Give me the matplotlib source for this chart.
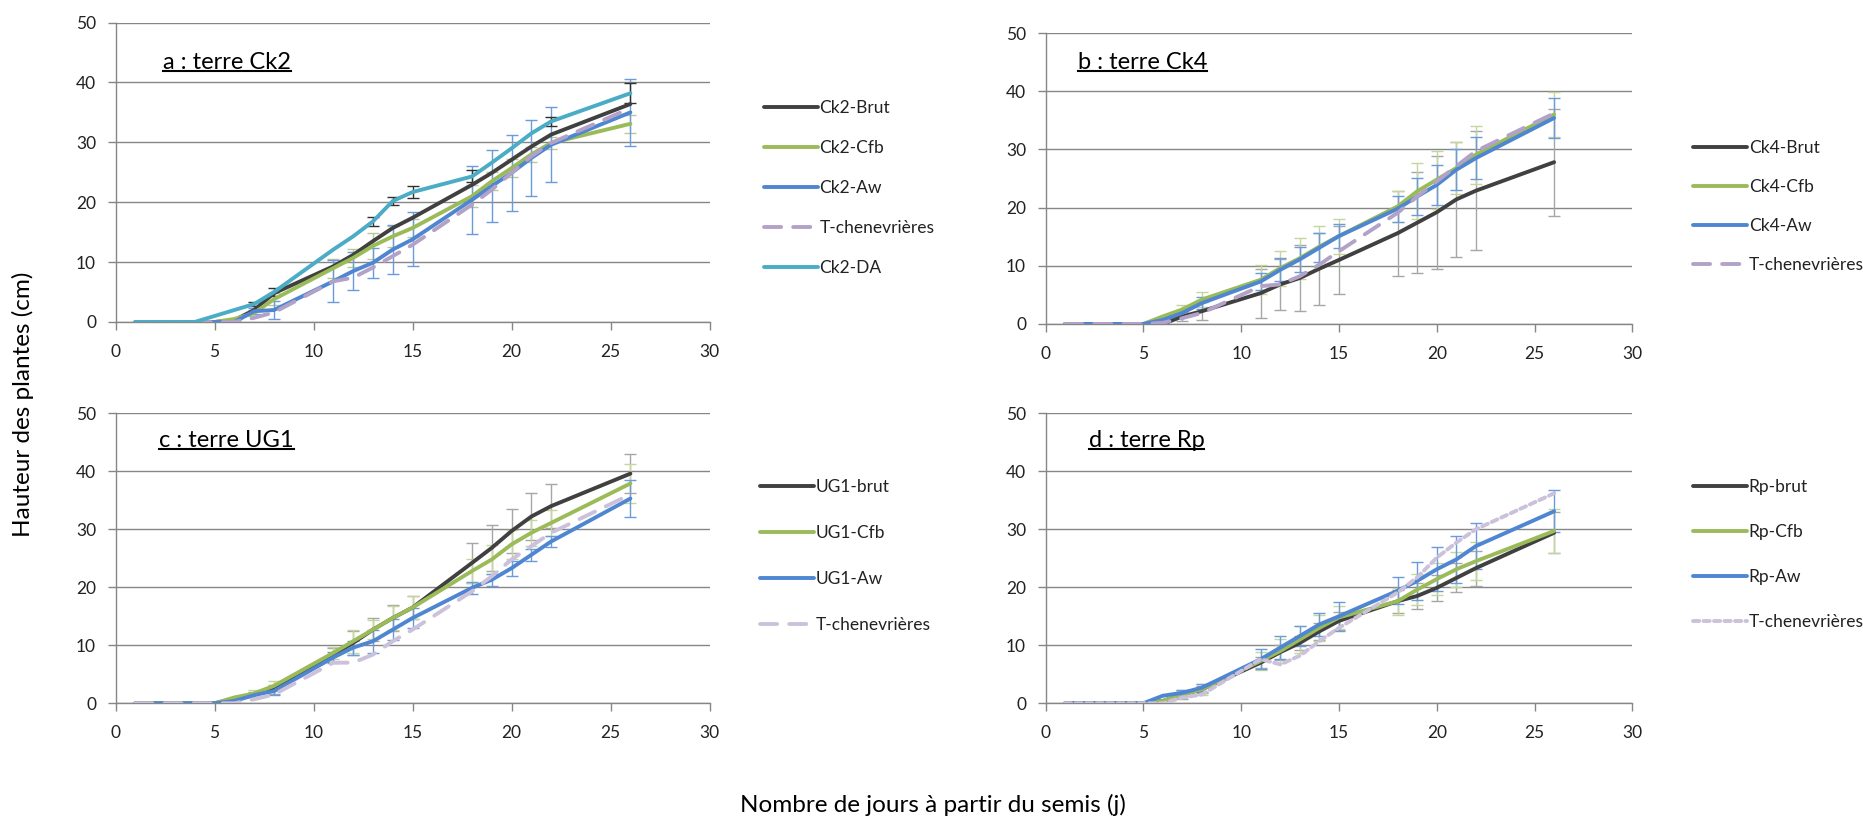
import numpy as np
import matplotlib
matplotlib.use("Agg")
import matplotlib.pyplot as plt
from matplotlib.lines import Line2D

plt.rcParams['font.family'] = ['Lato', 'DejaVu Sans']

days = [1, 4, 5, 6, 7, 8, 11, 12, 13, 14, 15, 18, 19, 20, 21, 22, 26]

# ---- panel a : terre Ck2
a_labels = ["Ck2-Brut", "Ck2-Cfb", "Ck2-Aw", "T-chenevrières", "Ck2-DA"]
a_brut = [0, 0, 0, 0.3, 2.0, 4.8, 9.3, 11.2, 13.5, 15.7, 17.4, 22.9, 24.9, 27.1, 29.3, 31.3, 36.4]
a_cfb = [0, 0, 0, 0.5, 1.5, 3.8, 9.0, 10.7, 12.7, 14.3, 15.7, 21.0, 23.5, 25.7, 28.0, 29.9, 33.1]
a_aw = [0, 0, 0, 0, 1.8, 2.0, 6.8, 8.5, 9.9, 12.1, 13.8, 20.4, 22.7, 24.9, 27.4, 29.6, 35.0]
a_tch = [0, 0, 0, 0, 0.7, 1.6, 6.8, 7.4, 9.1, 11.0, 12.9, 19.6, 22.1, 24.9, 27.7, 29.9, 35.7]
a_da = [0, 0, 1.0, 2.0, 3.0, 5.0, 12.1, 14.3, 16.8, 20.2, 21.7, 24.3, 26.6, 29.0, 31.5, 33.5, 38.2]
a_err_da = [0, 0, 0, 0, 0.4, 0.6, 0, 0, 0.8, 0.7, 1.0, 1.0, 0, 0, 0, 0.7, 1.7]
a_err_cfb = [0, 0, 0, 0, 0.5, 1.0, 1.6, 1.5, 2.2, 1.8, 1.5, 1.8, 1.5, 1.5, 1.3, 1.0, 1.5]
a_err_aw = [0, 0, 0, 0, 0.5, 1.5, 3.5, 3.2, 2.5, 4.1, 4.5, 5.7, 6.0, 6.3, 6.4, 6.3, 5.6]

# ---- panel b : terre Ck4
b_labels = ["Ck4-Brut", "Ck4-Cfb", "Ck4-Aw", "T-chenevrières"]
b_brut = [0, 0, 0, 0, 1.3, 2.2, 5.3, 6.8, 7.9, 9.5, 11.0, 15.6, 17.4, 19.2, 21.4, 22.9, 27.8]
b_cfb = [0, 0, 0, 1.3, 2.5, 4.2, 7.6, 9.6, 11.3, 13.3, 15.1, 20.2, 22.8, 24.8, 26.8, 29.1, 36.0]
b_aw = [0, 0, 0, 0.7, 1.9, 3.6, 7.3, 9.3, 11.1, 13.1, 15.1, 19.8, 21.9, 23.9, 26.5, 28.5, 35.4]
b_tch = [0, 0, 0, 0.2, 1.0, 1.9, 6.5, 6.8, 8.2, 10.2, 12.5, 19.1, 21.9, 24.5, 27.1, 29.7, 36.2]
b_err_brut = [0, 0, 0, 0, 0.8, 1.5, 4.2, 4.4, 5.6, 6.2, 5.9, 7.3, 8.7, 9.7, 9.9, 10.2, 9.2]
b_err_cfb = [0, 0, 0, 0, 0.8, 1.3, 2.5, 3.0, 3.5, 3.5, 3.0, 2.7, 4.8, 5.0, 4.5, 5.0, 3.8]
b_err_aw = [0, 0, 0, 0, 0.5, 1.0, 1.5, 2.0, 2.2, 2.5, 2.0, 2.2, 3.2, 3.5, 3.5, 3.6, 3.4]

# ---- panel c : terre UG1
c_labels = ["UG1-brut", "UG1-Cfb", "UG1-Aw", "T-chenevrières"]
c_brut = [0, 0, 0, 0.7, 1.5, 2.4, 8.4, 10.4, 12.7, 14.7, 16.5, 24.2, 26.8, 29.7, 32.2, 34.0, 39.6]
c_cfb = [0, 0, 0, 1.0, 1.7, 3.0, 8.7, 10.7, 12.7, 14.7, 16.5, 22.8, 24.8, 27.4, 29.4, 31.1, 37.9]
c_aw = [0, 0, 0, 0.4, 1.4, 2.1, 7.9, 9.6, 10.7, 12.7, 14.7, 19.9, 21.3, 23.3, 25.6, 27.9, 35.3]
c_tch = [0, 0, 0, 0, 0.7, 1.5, 7.0, 7.0, 8.4, 10.7, 12.7, 19.3, 21.9, 24.8, 27.1, 29.4, 36.0]
c_err_brut = [0, 0, 0, 0, 0.5, 0.8, 1.2, 2.0, 2.0, 2.3, 2.0, 3.5, 4.0, 3.8, 4.0, 3.8, 3.4]
c_err_cfb = [0, 0, 0, 0, 0.6, 0.8, 1.0, 2.0, 1.7, 2.0, 2.0, 2.0, 2.5, 2.5, 2.2, 2.2, 3.4]
c_err_aw = [0, 0, 0, 0, 0.4, 0.6, 1.0, 1.2, 2.0, 1.8, 1.7, 1.0, 1.0, 1.3, 1.0, 0.9, 3.2]

# ---- panel d : terre Rp
d_labels = ["Rp-brut", "Rp-Cfb", "Rp-Aw", "T-chenevrières"]
d_brut = [0, 0, 0, 0.4, 1.5, 2.4, 7.0, 8.8, 10.4, 12.4, 14.2, 17.6, 18.5, 19.9, 21.6, 23.3, 29.4]
d_cfb = [0, 0, 0, 0.4, 1.5, 2.4, 7.3, 9.0, 11.0, 13.0, 14.8, 17.6, 19.6, 21.4, 23.1, 24.5, 29.7]
d_aw = [0, 0, 0, 1.3, 1.8, 2.7, 7.6, 9.6, 11.6, 13.6, 15.0, 19.4, 21.1, 23.1, 24.8, 27.1, 33.1]
d_tch = [0, 0, 0, 0, 1.0, 1.5, 7.6, 6.7, 8.2, 10.7, 13.0, 19.1, 21.7, 25.1, 27.7, 30.0, 36.2]
d_err_brut = [0, 0, 0, 0, 0.8, 0.6, 1.0, 1.3, 1.2, 1.5, 1.6, 2.0, 2.2, 2.2, 2.5, 3.0, 3.5]
d_err_cfb = [0, 0, 0, 0, 0.6, 1.0, 1.6, 2.0, 2.3, 2.2, 2.0, 2.3, 2.7, 2.7, 3.0, 3.3, 3.8]
d_err_aw = [0, 0, 0, 0, 0.5, 0.7, 1.7, 2.0, 1.7, 2.0, 2.5, 2.3, 3.3, 3.8, 4.0, 4.0, 3.6]

titles = ["a : terre Ck2", "b : terre Ck4", "c : terre UG1", "d : terre Rp"]
xticks = [0, 5, 10, 15, 20, 25, 30]
yticks = [0, 10, 20, 30, 40, 50]

BLACK = '#404040'
GREEN = '#9BBB59'
BLUE = '#4F86D2'
CYAN = '#4BACC6'
PURPLE = '#B3A2C7'
LPURPLE = '#CCC1DA'
GRID = '#868686'

FS = 12.5

fig = plt.figure(figsize=(18.63, 8.21), dpi=100)

rects = [
    [0.0620, 0.6078, 0.3189, 0.3647],
    [0.5612, 0.6054, 0.3150, 0.3544],
    [0.0620, 0.1434, 0.3189, 0.3532],
    [0.5612, 0.1434, 0.3150, 0.3532],
]
legend_anchor = [(0.410, 0.8785), (0.9088, 0.8295), (0.408, 0.4160), (0.9088, 0.4160)]
legend_spacing = [1.38, 1.33, 1.72, 1.66]
title_pos = [(2.4, 43.3), (1.65, 45.0), (2.2, 45.3), (2.2, 45.3)]

x = np.array(days, dtype=float)

panels = [
    dict(labels=a_labels, series=[a_brut, a_cfb, a_aw, a_tch, a_da],
         colors=[BLACK, GREEN, BLUE, PURPLE, CYAN],
         errs=[(a_err_cfb, '#B7C99A', 1), (a_err_aw, '#6A9BDD', 2), (a_err_da, '#303030', 4)],
         dash=(4.4, 3.1)),
    dict(labels=b_labels, series=[b_brut, b_cfb, b_aw, b_tch],
         colors=[BLACK, GREEN, BLUE, PURPLE],
         errs=[(b_err_brut, '#A6A6A6', 0), (b_err_cfb, '#C3D69B', 1), (b_err_aw, '#6A9BDD', 2)],
         dash=(4.4, 3.1)),
    dict(labels=c_labels, series=[c_brut, c_cfb, c_aw, c_tch],
         colors=[BLACK, GREEN, BLUE, LPURPLE],
         errs=[(c_err_brut, '#A6A6A6', 0), (c_err_cfb, '#C3D69B', 1), (c_err_aw, '#6A9BDD', 2)],
         dash=(4.4, 3.1)),
    dict(labels=d_labels, series=[d_brut, d_cfb, d_aw, d_tch],
         colors=[BLACK, GREEN, BLUE, LPURPLE],
         errs=[(d_err_brut, '#A6A6A6', 0), (d_err_cfb, '#C3D69B', 1), (d_err_aw, '#6A9BDD', 2)],
         dash=(1.6, 1.1)),
]

title_texts = []
for i, p in enumerate(panels):
    ax = fig.add_axes(rects[i])
    ax.set_xlim(0, 30)
    ax.set_ylim(0, 50)
    ax.set_xticks(xticks)
    ax.set_yticks(yticks)
    ax.tick_params(axis='both', labelsize=FS, colors=GRID, labelcolor='#222222',
                   length=6, width=1, direction='out')
    ax.tick_params(axis='x', pad=10)
    ax.tick_params(axis='y', pad=8)
    for s in ['top', 'right']:
        ax.spines[s].set_visible(False)
    for s in ['left', 'bottom']:
        ax.spines[s].set_color(GRID)
        ax.spines[s].set_linewidth(1)
    ax.yaxis.grid(True, color=GRID, linewidth=1)
    ax.set_axisbelow(True)
    ax.patch.set_alpha(0)

    # error bars
    for err, ecol, si in p['errs']:
        e = np.array(err, dtype=float)
        m = e > 0
        yv = np.array(p['series'][si], dtype=float)
        ax.errorbar(x[m], yv[m], yerr=e[m], fmt='none', ecolor=ecol,
                    elinewidth=1, capsize=4, capthick=1, zorder=2)

    handles = []
    for j, (yv, col) in enumerate(zip(p['series'], p['colors'])):
        if p['labels'][j] == "T-chenevrières":
            ln, = ax.plot(x, yv, color=col, linewidth=2.8, dashes=p['dash'],
                          solid_capstyle='round', dash_capstyle='round', zorder=3,
                          label=p['labels'][j])
        else:
            ln, = ax.plot(x, yv, color=col, linewidth=2.8, zorder=3,
                          solid_capstyle='round', label=p['labels'][j])
        handles.append(ln)

    fig.legend(handles=handles, labels=p['labels'], loc='upper left',
               bbox_to_anchor=legend_anchor[i], bbox_transform=fig.transFigure,
               frameon=False, fontsize=FS, handlelength=3.1, handletextpad=0.1,
               borderpad=0, borderaxespad=0, labelspacing=legend_spacing[i],
               labelcolor='#222222')

    t = ax.text(title_pos[i][0], title_pos[i][1], titles[i], fontsize=17,
                color='black', ha='left', va='center')
    title_texts.append(t)

fig.text(0.0125, 0.508, "Hauteur des plantes (cm)", rotation=90, fontsize=17.5,
         ha='center', va='center', color='black')
fig.text(0.5006, 0.019, "Nombre de jours à partir du semis (j)", fontsize=17.5,
         ha='center', va='center', color='black')

# underline titles
fig.canvas.draw()
renderer = fig.canvas.get_renderer()
inv = fig.transFigure.inverted()
for t in title_texts:
    bb = t.get_window_extent(renderer)
    y = bb.y0 + 2
    (x0, y0f) = inv.transform((bb.x0, y))
    (x1, _) = inv.transform((bb.x1, y))
    fig.add_artist(Line2D([x0, x1], [y0f, y0f], transform=fig.transFigure,
                          color='black', linewidth=1.5))

fig.savefig("out.png", dpi=100)
